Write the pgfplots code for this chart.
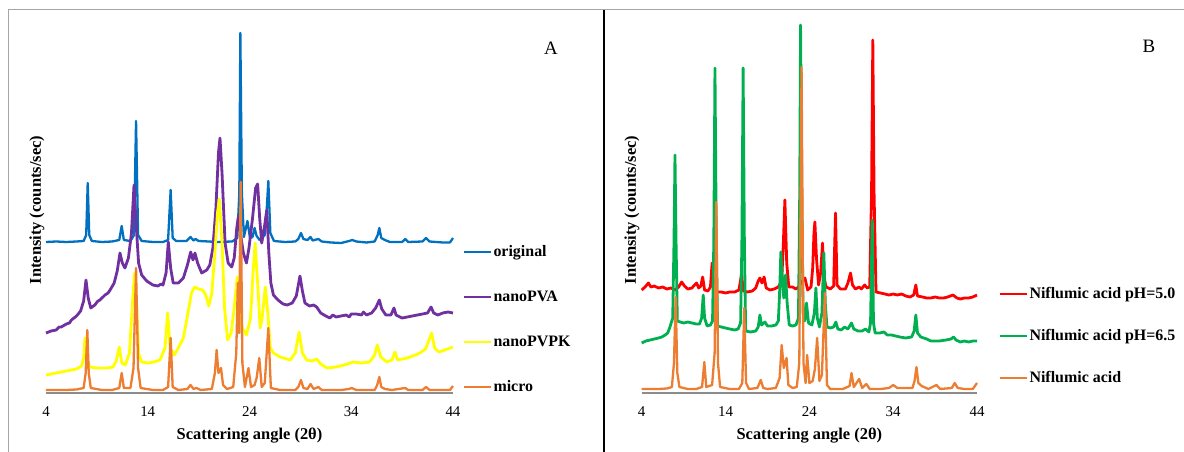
\documentclass[border=0pt]{standalone}
\usepackage{pgfplots}
\pgfplotsset{compat=1.18}
\usepackage{fontspec}
\setmainfont{Liberation Serif}
\definecolor{cblue}{HTML}{0070C0}
\definecolor{cpurple}{HTML}{7030A0}
\definecolor{cyellow}{HTML}{FFFF00}
\definecolor{corange}{HTML}{ED7D31}
\definecolor{cred}{HTML}{FF0000}
\definecolor{cgreen}{HTML}{00B050}
\pgfplotsset{
 common/.style={
  scale only axis, height=378bp, anchor=south west,
  xmin=4, xmax=44, ymin=0, ymax=378,
  axis x line*=bottom, axis y line*=left,
  y axis line style={draw=none},
  x axis line style={black!45, line width=1.5bp},
  xtick={4,14,24,34,44}, ytick=\empty, major tick length=0pt,
  xticklabel style={font=\fontsize{15}{15}\selectfont, yshift=-10bp},
  /pgf/number format/assume math mode=true,
  clip=false,
  xlabel={Scattering angle (2θ)},
  ylabel={Intensity\ (counts/sec)},
  label style={font=\fontsize{16.5}{17}\selectfont\bfseries},
  xlabel style={at={(axis description cs:0.5,0)}, anchor=center, yshift=-43bp},
  every axis plot/.append style={line width=2.3bp, line join=round, no markers},
  noisy/.style={line width=2.8bp},
  legend cell align=left,
  legend image code/.code={\draw[#1, line width=2.3bp] (0bp,0bp) -- (27bp,0bp);},
 }
}
\begin{document}
\begin{tikzpicture}
\path[use as bounding box] (0bp,0bp) rectangle (1184bp,452bp);
\draw[black!35, line width=1bp] (8bp,0bp) -- (8bp,442bp) -- (1184bp,442bp);
\draw[black, line width=1.5bp] (604bp,0bp) -- (604bp,442bp);

\begin{axis}[common, at={(46bp,59bp)}, width=407bp,
  ylabel style={at={(axis description cs:-0.022,0.484)}, anchor=center},
  legend style={draw=none, fill=none, at={(axis description cs:1.0246,0.394)}, anchor=north west,
    row sep=29bp, inner sep=0pt, font=\fontsize{16}{16}\selectfont\bfseries,
    nodes={inner sep=1bp, text height=11bp, text depth=3bp}}]
\addplot[cblue] coordinates {(4,151) (5,151.5) (6,151) (7,151.5) (7.7,152) (7.95,158) (8.1,210) (8.25,158) (8.5,152) (9.5,151) (10.5,151.5) (11.2,153) (11.44,167) (11.65,153) (12.3,152) (12.65,158) (12.85,272) (13.05,158) (13.4,152) (14.5,151) (15.5,151) (16.0,153) (16.25,203) (16.45,155) (16.8,152) (17.8,152) (18.2,156) (18.5,152.5) (18.7,154) (19,152) (20,151.5) (20.8,151) (22.3,151.5) (22.8,155) (23.0,200) (23.1,360) (23.25,200) (23.45,156) (23.8,172) (24.05,155) (24.3,156) (24.5,165) (24.7,157) (25.0,153) (25.5,158) (25.7,185) (25.85,212) (26.05,160) (26.4,152) (27.5,151) (28.5,151.5) (28.8,154) (29.06,160) (29.3,154) (29.7,153) (30.0,156) (30.2,152.5) (30.77,154) (31.1,151.5) (32,150.5) (33,150) (33.8,152) (34.1,153) (34.5,151.5) (35.5,150.5) (36.3,151.5) (36.6,158) (36.76,165) (36.95,155) (37.3,153) (37.8,151) (39,151) (39.3,154) (39.6,151) (41,151.5) (41.35,155) (41.7,151.5) (43,150.5) (43.7,150.5) (44,155)};
\addlegendentry{original}
\addplot[cpurple, noisy] coordinates {(4,60) (4.5,62) (5,63) (5.3,66) (5.5,66) (6,69) (6.3,70) (6.5,73) (7,77) (7.4,82) (7.7,92) (7.93,113) (8.15,95) (8.4,85) (8.8,88) (9.1,92) (9.3,93) (9.8,98) (10.1,100) (10.3,103) (10.7,110) (11.0,122) (11.27,140) (11.5,130) (11.76,125) (12.1,135) (12.4,160) (12.65,208) (12.85,170) (13.1,130) (13.4,118) (13.9,112) (14.2,110) (14.5,108) (15.0,107) (15.3,109) (15.5,108) (15.8,120) (16.02,151) (16.25,125) (16.5,110) (17.0,110) (17.5,115) (17.9,128) (18.22,141) (18.45,133) (18.64,140) (18.9,130) (19.3,120) (19.8,123) (20.1,128) (20.4,145) (20.7,185) (20.95,240) (21.1,255) (21.3,220) (21.6,150) (21.9,130) (22.25,126) (22.5,135) (22.75,165) (22.9,176) (23.1,160) (23.4,140) (23.7,130) (23.95,145) (24.3,175) (24.6,205) (24.8,209) (25.0,175) (25.2,150) (25.45,165) (25.7,183) (25.9,140) (26.1,110) (26.35,98) (26.8,93) (27.3,89) (27.7,88) (28.2,90) (28.6,97) (28.96,117) (29.2,102) (29.45,90) (29.9,87) (30.3,88) (30.6,86) (31.0,80) (31.5,77) (31.9,75) (32.2,78) (32.5,76) (33,77) (33.5,78) (33.8,76) (34,79) (34.5,79) (35,78) (35.2,81) (35.5,78) (36,80) (36.4,85) (36.76,93) (37.0,84) (37.4,78) (37.9,78) (38.2,85) (38.4,78) (39,75) (39.5,76) (40,77) (40.5,78) (41,79) (41.5,80) (41.84,86) (42.1,80) (42.5,78) (43,80) (43.5,81) (44,80)};
\addlegendentry{nanoPVA}
\addplot[cyellow, noisy] coordinates {(4,18) (5,20) (6,22) (7,24) (7.5,27) (7.7,35) (7.83,55) (8.0,35) (8.3,26) (9,25) (10,25) (10.6,26) (10.9,32) (11.2,46) (11.45,30) (11.8,28) (12.2,40) (12.5,90) (12.7,120) (12.9,90) (13.1,40) (13.4,31) (14,30) (14.6,31) (15.2,33) (15.7,45) (15.95,80) (16.2,45) (16.6,38) (17,45) (17.5,55) (18.0,83) (18.3,100) (18.6,106) (19.0,104) (19.4,103) (19.7,98) (20.0,87) (20.3,100) (20.6,140) (20.85,180) (21.03,194) (21.3,150) (21.55,85) (21.85,53) (22.2,60) (22.5,85) (22.8,116) (23.05,80) (23.3,65) (23.7,58) (24.1,75) (24.35,120) (24.55,150) (24.8,110) (25.05,65) (25.25,75) (25.55,106) (25.8,80) (26.05,45) (26.35,40) (27,36) (28,33) (28.5,40) (28.87,61) (29.2,40) (29.6,33) (30.2,32) (30.6,34) (31.0,29) (31.6,25) (32.5,26) (33.3,28) (34.2,31) (35,30) (35.8,31) (36.3,38) (36.56,48) (36.9,36) (37.5,31) (38.0,33) (38.3,41) (38.55,33) (39.5,35) (40.3,38) (40.75,40) (41.3,44) (41.6,52) (41.9,60) (42.2,45) (42.6,41) (43.2,43) (44,46)};
\addlegendentry{nanoPVPK}
\addplot[corange] coordinates {(4,3) (5,3) (6,3) (7,3.5) (7.7,5) (7.9,20) (8.06,63) (8.2,20) (8.4,5) (9.5,3) (10.5,3) (11.2,5) (11.44,20) (11.65,5) (12.3,5) (12.6,25) (12.85,125) (13.05,25) (13.3,5) (14.5,3) (15.5,3) (16.0,6) (16.25,55) (16.45,6) (17,3) (17.9,4) (18.2,8) (18.5,4) (18.8,5) (19.2,3) (20.3,4) (20.6,20) (20.77,43) (20.95,20) (21.2,25) (21.4,8) (21.8,4) (22.4,6) (22.7,40) (22.85,110) (22.98,60) (23.13,211) (23.3,30) (23.55,6) (23.9,25) (24.15,6) (24.5,8) (24.7,15) (24.96,35) (25.2,6) (25.5,10) (25.85,65) (26.1,5) (27,3) (28.5,3) (28.8,6) (29.06,13) (29.3,5) (29.7,4) (30.0,9) (30.3,4) (30.77,6) (31.1,3) (33,3) (33.8,4) (34.04,5) (34.5,3) (36.3,3) (36.55,8) (36.76,16) (36.95,6) (37.3,4) (38,3) (39.3,5) (39.6,3) (41,3) (41.35,6) (41.7,3) (43.7,3) (44,7)};
\addlegendentry{micro}
\node[font=\fontsize{19}{19}\selectfont] at (rel axis cs:1.2408,0.9127) {A};
\end{axis}

\begin{axis}[common, at={(641.7bp,59bp)}, width=335.3bp,
  ylabel style={at={(axis description cs:-0.029,0.484)}, anchor=center},
  legend style={draw=none, fill=none, at={(axis description cs:1.0656,0.283)}, anchor=north west,
    row sep=26bp, inner sep=0pt, font=\fontsize{16}{16}\selectfont\bfseries,
    nodes={inner sep=1bp, text height=11bp, text depth=3bp}}]
\addplot[cred, noisy] coordinates {(4,103) (4.4,106) (4.8,110) (5.1,106) (5.5,107) (6,105) (6.5,106) (7,104) (7.5,105) (8.0,103) (8.4,106) (8.77,111) (9.1,107) (9.5,104) (10.0,105) (10.3,108) (10.55,110) (10.8,105) (11.05,107) (11.27,116) (11.5,103) (11.9,102) (12.2,106) (12.4,130) (12.6,103) (13,101) (13.5,101) (14,100) (14.5,101) (15.1,101) (15.6,103) (15.9,118) (16.15,102) (16.6,101) (17.2,102) (17.6,105) (17.9,112) (18.1,115) (18.35,110) (18.6,116) (18.85,105) (19.3,103) (19.8,104) (20.3,106) (20.7,112) (20.9,150) (21.08,193) (21.3,130) (21.55,106) (22.0,106) (22.4,104) (22.7,106) (23.0,110) (23.47,115) (23.8,103) (24.2,106) (24.4,125) (24.55,160) (24.66,171) (24.85,135) (25.1,108) (25.35,120) (25.57,150) (25.75,115) (26.0,106) (26.5,104) (26.9,107) (27.12,180) (27.3,108) (27.7,104) (28.3,104) (28.6,110) (28.91,120) (29.15,108) (29.5,104) (29.94,106) (30.2,104) (30.6,108) (30.9,105) (31.2,106) (31.42,200) (31.57,353) (31.72,200) (31.95,101) (32.5,100) (33,99) (33.5,98) (34,99) (34.5,98) (35,99) (35.5,97) (36,96) (36.45,98) (36.7,108) (36.9,97) (37.5,96) (38,95) (38.5,95) (39,96) (39.5,95) (40,95) (40.5,96) (41.14,98) (41.6,95) (42,94) (42.5,95) (43,95) (43.5,96) (44,98)};
\addlegendentry{Niflumic acid pH=5.0}
\addplot[cgreen, noisy] coordinates {(4,50) (4.5,52) (5,53) (5.5,54) (6,55) (6.4,56) (6.8,58) (7.1,60) (7.37,66) (7.7,75) (7.85,150) (7.97,238) (8.1,150) (8.25,72) (8.6,71) (9.0,70) (9.5,71) (10,70) (10.5,69) (10.9,69) (11.15,75) (11.34,98) (11.5,75) (11.8,67) (12.2,68) (12.45,72) (12.6,150) (12.74,325) (12.9,150) (13.05,67) (13.5,66) (14,65) (14.5,64) (15.1,63) (15.5,64) (15.8,70) (15.95,150) (16.1,325) (16.25,150) (16.4,62) (17,61) (17.6,62) (17.9,66) (18.1,78) (18.3,68) (18.7,71) (19.0,67) (19.5,67) (20.0,68) (20.3,72) (20.45,100) (20.6,141) (20.8,110) (20.95,95) (21.16,118) (21.35,90) (21.6,68) (22,67) (22.4,68) (22.7,75) (22.85,200) (22.95,368) (23.1,200) (23.25,80) (23.45,72) (23.66,90) (23.9,70) (24.3,68) (24.6,80) (24.78,105) (24.95,75) (25.2,66) (25.5,80) (25.73,140) (25.9,90) (26.1,66) (26.5,65) (26.9,66) (27.16,71) (27.4,64) (27.8,63) (28.2,66) (28.6,64) (29.03,70) (29.3,64) (29.8,62) (30.3,62) (30.7,64) (31.1,61) (31.3,70) (31.5,173) (31.65,70) (31.85,60) (32.4,60) (32.9,61) (33.3,58) (33.8,58) (34.3,57) (34.8,56) (35.5,55) (36.2,56) (36.5,62) (36.7,78) (36.9,60) (37.3,56) (38,54) (38.5,52) (39,52) (39.5,52) (40.3,53) (40.9,54) (41.2,56) (41.5,53) (42,51) (42.5,52) (43,51) (43.5,52) (44,52)};
\addlegendentry{Niflumic acid pH=6.5}
\addplot[corange] coordinates {(4,4) (5,4) (6,4) (7,4.5) (7.6,6) (7.85,30) (8.05,96) (8.25,20) (8.5,6) (9.5,4) (10.5,4) (11.2,6) (11.47,31) (11.7,6) (12.4,8) (12.7,40) (12.9,191) (13.1,30) (13.35,6) (14.5,4) (15.6,4) (16.0,10) (16.23,85) (16.45,10) (16.8,4) (17.8,5) (18.2,13) (18.5,5) (19,4) (20,5) (20.45,15) (20.7,48) (20.95,25) (21.28,35) (21.5,8) (22,5) (22.5,6) (22.8,30) (23.07,326) (23.3,30) (23.55,10) (23.74,38) (24.0,10) (24.4,12) (24.66,24) (24.93,55) (25.2,12) (25.5,18) (25.85,100) (26.1,8) (26.5,4) (28,4) (28.8,7) (29.03,20) (29.3,6) (29.94,14) (30.3,5) (30.8,9) (31.2,4) (32.5,4) (33.5,5) (34,8) (34.5,5) (36.3,5) (36.55,12) (36.78,26) (37.0,10) (37.4,7) (38.2,4) (39.16,8) (39.6,4) (41.0,5) (41.34,10) (41.7,5) (42.5,4) (43.5,4) (44,10)};
\addlegendentry{Niflumic acid}
\node[font=\fontsize{19}{19}\selectfont] at (rel axis cs:1.513,0.918) {B};
\end{axis}
\end{tikzpicture}
\end{document}
